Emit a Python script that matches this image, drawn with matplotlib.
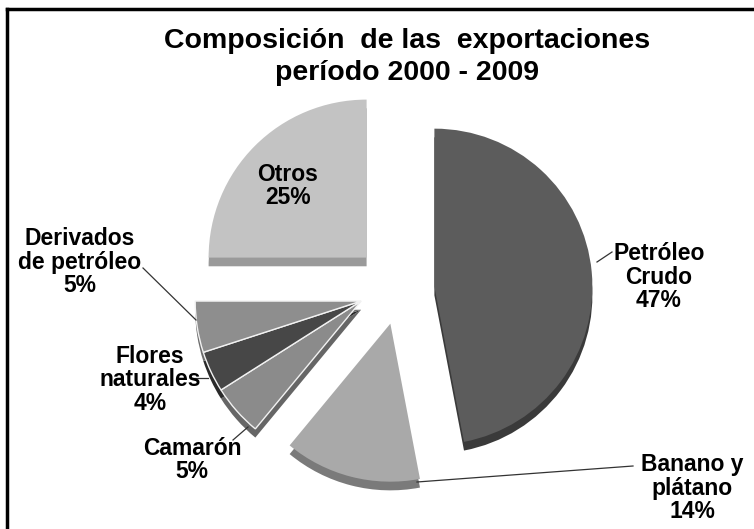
import matplotlib.pyplot as plt
from matplotlib.lines import Line2D

W, H = 754, 529

# export shares 2000-2009, clockwise from 12 o'clock
names = ["Petróleo\nCrudo", "Banano y\nplátano", "Camarón", "Flores\nnaturales",
         "Derivados\nde petróleo", "Otros"]
shares = [47, 14, 5, 4, 5, 25]
colors = ["#5c5c5c", "#a9a9a9", "#8b8b8b", "#474747", "#8e8e8e", "#c3c3c3"]
sides = ["#3a3a3a", "#7a7a7a", "#666666", "#2a2a2a", "#6c6c6c", "#9a9a9a"]
explode = [0.225, 0.22, 0, 0, 0, 0.29]
grouped = [False, False, True, True, True, False]   # small slices pulled out together

R_PX = 158          # pie radius in pixels
CX, CY = 399, 290   # pie centre in pixels (from top)
GROUP_SHIFT = (-0.24, -0.07)   # offset of the grouped block, in radii
GROUP_R = 1.05
DEPTH = 0.055


def fig_xy(x, y):
    return x / W, 1 - y / H


def draw(cols, want, **kw):
    wedges = ax.pie(shares, colors=cols, startangle=90, counterclock=False, **kw)[0]
    for w, g in zip(wedges, grouped):
        w.set_visible(g == want)


fig = plt.figure(figsize=(W / 100, H / 100), dpi=100)
ax = fig.add_axes([0, 0, 1, 1])

gx, gy = GROUP_SHIFT
# darker copies shifted down give the slices some thickness
draw(sides, False, explode=explode, center=(0, -DEPTH), wedgeprops=dict(linewidth=0))
draw(sides, True, radius=GROUP_R, center=(gx, gy - DEPTH), wedgeprops=dict(linewidth=0))
draw(colors, False, explode=explode, wedgeprops=dict(linewidth=0))
draw(colors, True, radius=GROUP_R, center=(gx, gy),
     wedgeprops=dict(linewidth=1, edgecolor="#f2f2f2"))

ax.set_xlim(-CX / R_PX, (W - CX) / R_PX)
ax.set_ylim(-(H - CY) / R_PX, CY / R_PX)
ax.set_aspect("auto")
ax.axis("off")

title_font = dict(fontsize=20.5, fontweight="bold", family="Liberation Sans")
fig.text(*fig_xy(407, 48), "Composición  de las  exportaciones", ha="center",
         va="baseline", **title_font)
fig.text(*fig_xy(407, 80), "período 2000 - 2009", ha="center", va="baseline", **title_font)

# label positions and leader lines (pixels)
label_pos = [(659, 277), (692, 488), (192, 460), (150, 380), (80, 262), (288, 186)]
leaders = [[(597, 262), (612, 252)],
           [(417, 482), (633, 466)],
           [(233, 440), (248, 427)],
           [(190, 378), (208, 378)],
           [(143, 268), (196, 320)],
           None]

for name, share, pos, lead in zip(names, shares, label_pos, leaders):
    fig.text(*fig_xy(*pos), f"{name}\n{share}%", ha="center", va="center",
             fontsize=16.5, fontweight="bold", family="Liberation Sans", linespacing=1.05)
    if lead:
        xs, ys = zip(*[fig_xy(*p) for p in lead])
        fig.add_artist(Line2D(xs, ys, color="#333333", linewidth=0.9))

# frame visible along the top and left edges
fig.add_artist(Line2D([7 / W, 7 / W], [0, 1 - 9 / H], color="black", linewidth=2.5))
fig.add_artist(Line2D([7 / W, 1], [1 - 9 / H, 1 - 9 / H], color="black", linewidth=2.5))

fig.savefig("out.png", dpi=100)
